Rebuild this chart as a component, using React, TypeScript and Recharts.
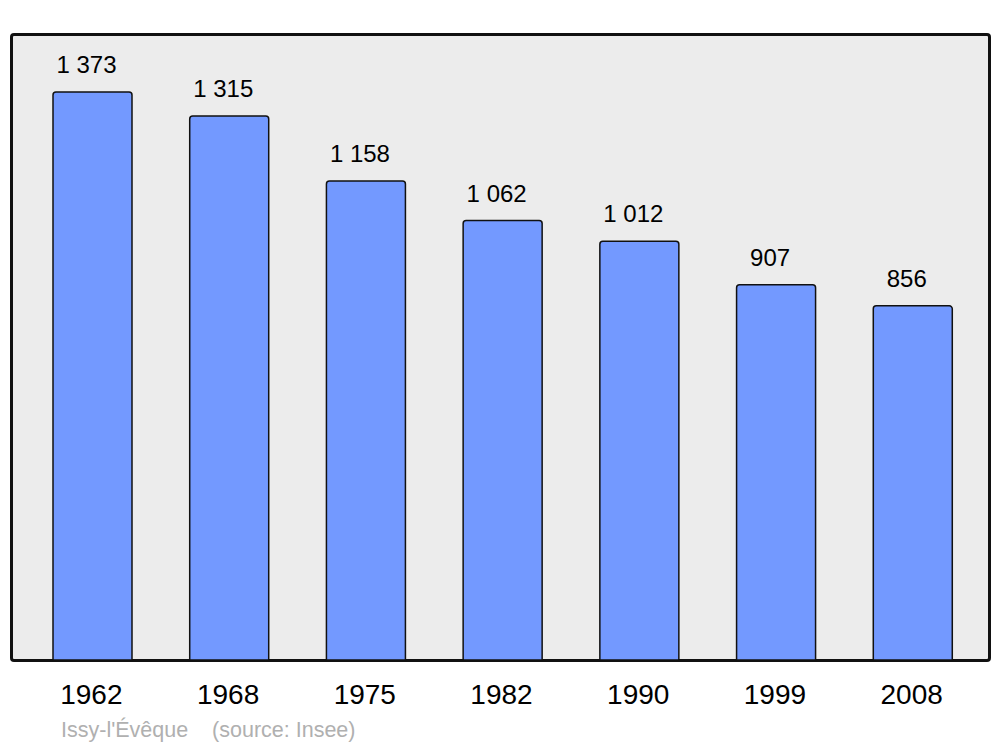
import React from "react";
import { BarChart, Bar, XAxis, YAxis, LabelList } from "recharts";

const years = ["1962", "1968", "1975", "1982", "1990", "1999", "2008"];
const population = [1373, 1315, 1158, 1062, 1012, 907, 856];

const data = years.map((year, i) => ({ year, population: population[i] }));

// "1 373" style: space as thousands separator
const formatPop = (v: number) =>
  String(v).replace(/\B(?=(\d{3})+(?!\d))/g, " ");

const font = "'Liberation Sans', Arial, sans-serif";

const App = () => {
  return (
    <div
      style={{
        position: "absolute",
        left: 0,
        top: 0,
        width: 1000,
        height: 747,
        background: "#fff",
        fontFamily: font,
      }}
    >
      {/* plot frame */}
      <div
        style={{
          position: "absolute",
          left: 10,
          top: 33,
          width: 975,
          height: 623,
          background: "#ececec",
          border: "3px solid #111",
          borderRadius: 4,
        }}
      />
      <div style={{ position: "absolute", left: 0, top: 0 }}>
        <BarChart
          width={1000}
          height={747}
          data={data}
          margin={{ top: 34, right: 11, left: 11, bottom: 0 }}
        >
          <XAxis
            dataKey="year"
            height={87}
            axisLine={false}
            tickLine={false}
            tickSize={0}
            tickMargin={24}
            padding={{ left: 13, right: 8 }}
            tick={{ fontSize: 28, fill: "#000", fontFamily: font, dx: -1 }}
            interval={0}
          />
          <YAxis hide domain={[0, 1513]} />
          <Bar
            dataKey="population"
            fill="#7399ff"
            stroke="#111"
            strokeWidth={1.5}
            barSize={79}
            radius={[3, 3, 0, 0]}
            isAnimationActive={false}
          >
            <LabelList
              dataKey="population"
              position="top"
              offset={19}
              dx={-6}
              formatter={(v: any) => formatPop(Number(v))}
              style={{ fontSize: 24, fill: "#000", fontFamily: font }}
            />
          </Bar>
        </BarChart>
      </div>
      <div
        style={{
          position: "absolute",
          left: 61,
          top: 718,
          fontSize: 21.5,
          color: "#b0b0b0",
          whiteSpace: "pre",
        }}
      >
        {"Issy-l'Évêque    (source: Insee)"}
      </div>
    </div>
  );
};

export default App;
